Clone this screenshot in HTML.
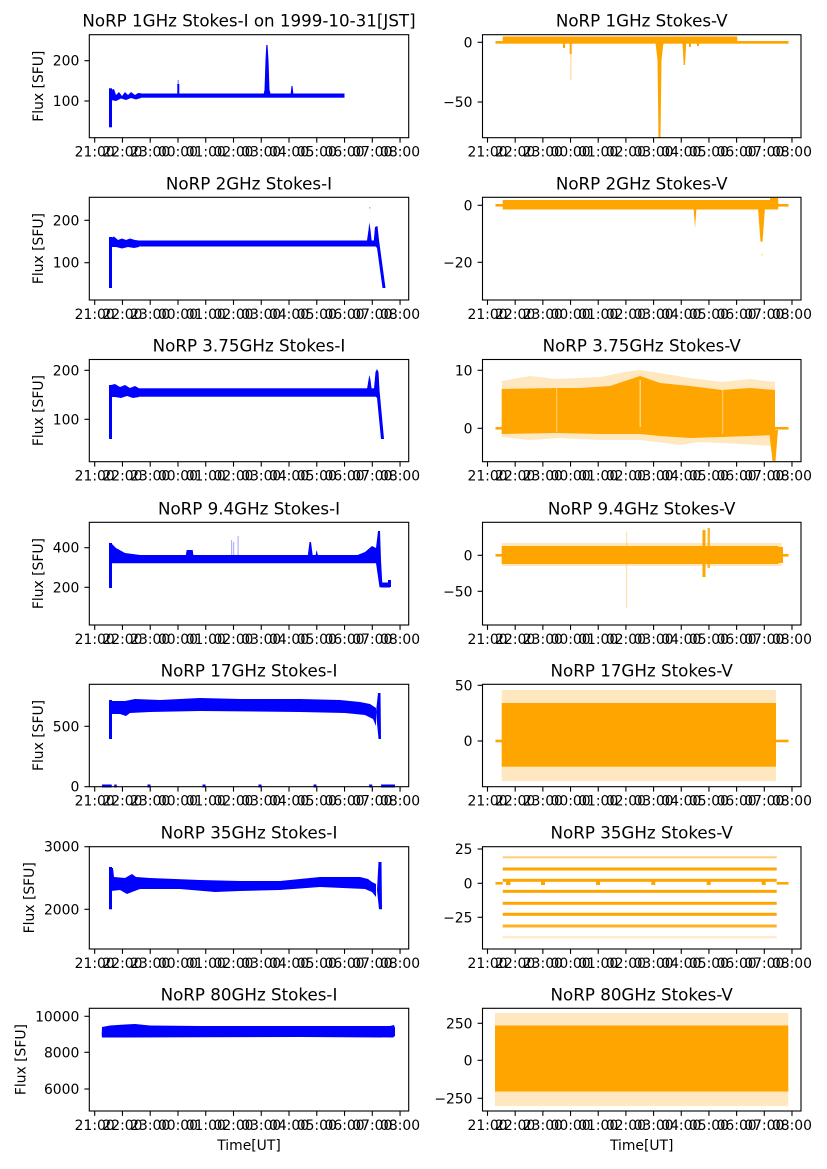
<!DOCTYPE html>
<html><head><meta charset="utf-8"><style>
html,body{margin:0;padding:0;background:#fff;}
svg{display:block;font-family:"DejaVu Sans","Liberation Sans",sans-serif;}
.t{font-size:13.9px;fill:#000;}
.ti{font-size:16.7px;fill:#000;}
.fr{fill:none;stroke:#000;stroke-width:1.1;}
.tk{stroke:#000;stroke-width:1.1;}
.b{fill:#0000ff;}
.o{fill:#ffa500;}
.os{fill:#ffa500;opacity:0.25;}
</style></head><body>
<svg width="827" height="1169" viewBox="0 0 827 1169" xmlns="http://www.w3.org/2000/svg">

<!-- ================= ROW 1 ================= -->
<text class="ti" x="249" y="26.5" text-anchor="middle">NoRP 1GHz Stokes-I on 1999-10-31[JST]</text>
<text class="ti" x="641.7" y="26.5" text-anchor="middle">NoRP 1GHz Stokes-V</text>
<rect class="b" x="109" y="88.3" width="3" height="39"/>
<polygon class="b" points="111,90 114,89 116,95 119,92 122,96 125,92 128,95 131,92 135,95 138,93 141,93.3 141,98 136,99.5 131,98 126,100 121,98.5 116,101 111,100"/>
<rect class="b" x="141" y="93.5" width="203.5" height="4.2"/>
<rect class="b" x="177.3" y="84" width="2" height="10"/>
<rect class="b" x="177.5" y="80" width="1.5" height="5" opacity="0.4"/>
<polygon class="b" points="263,97 264.5,90 265.5,60 266.3,45 267.5,45 268.5,60 269.5,90 271.5,97"/>
<polygon class="b" points="290.5,95 291.5,86 292.5,86 293.5,95"/>
<rect class="o" x="495.5" y="41" width="293" height="2.7"/>
<rect class="o" x="502.7" y="36.5" width="234.6" height="6.8"/>
<rect class="o" x="563" y="42" width="2" height="6"/>
<rect class="o" x="569.7" y="42" width="2" height="12"/>
<rect class="o" x="569.9" y="52" width="1.6" height="28" opacity="0.3"/>
<polygon class="o" points="655.5,43 657.5,60 658.5,137.7 660.5,137.7 661.5,60 663.5,43"/>
<polygon class="o" points="682.5,43 683.7,65 685,65 686.2,43"/>
<rect class="o" x="689" y="42" width="2" height="5"/>
<rect class="o" x="697" y="42" width="2" height="4"/>
<rect class="fr" x="89.3" y="34.7" width="319.4" height="103"/>
<rect class="fr" x="482.5" y="34.7" width="318.5" height="103"/>

<!-- ================= ROW 2 ================= -->
<text class="ti" x="249" y="189.3" text-anchor="middle">NoRP 2GHz Stokes-I</text>
<text class="ti" x="641.7" y="189.3" text-anchor="middle">NoRP 2GHz Stokes-V</text>
<rect class="b" x="109" y="237" width="3" height="51"/>
<polygon class="b" points="111,238 114,236.5 118,240 122,238.5 126,240 130,238.5 135,240 139,240.5 139,247 134,248 128,247 122,248.5 116,247 111,247"/>
<rect class="b" x="139" y="240.5" width="240" height="6"/>
<polygon class="b" points="366.5,244 368.5,230 369.3,222.5 370.5,230 372,244"/>
<polygon class="b" points="373.5,244 375,227 377.5,226 379,240 385.5,288 382.5,288 377,248"/>
<rect class="b" x="369" y="207" width="1.5" height="1.5" opacity="0.3"/>
<rect class="o" x="495.5" y="204" width="293" height="2.6"/>
<rect class="o" x="502.7" y="200" width="275.6" height="9.5"/>
<rect class="o" x="770" y="198" width="8" height="11"/>
<polygon class="o" points="693.5,208 695,228 696.5,208"/>
<polygon class="o" points="758,208 760.5,241.7 762.5,241.7 765,208"/>
<rect class="o" x="761" y="254" width="1.5" height="1.5" opacity="0.4"/>
<rect class="fr" x="89.3" y="197.3" width="319.4" height="102.7"/>
<rect class="fr" x="482.5" y="197.3" width="318.5" height="102.7"/>

<!-- ================= ROW 3 ================= -->
<text class="ti" x="249" y="351.5" text-anchor="middle">NoRP 3.75GHz Stokes-I</text>
<text class="ti" x="641.7" y="351.5" text-anchor="middle">NoRP 3.75GHz Stokes-V</text>
<rect class="b" x="109" y="385" width="3" height="54"/>
<polygon class="b" points="111,385 115,384 120,387 125,385 130,388 135,386 139,388.3 139,397 133,398 127,396 121,398 115,397 111,397"/>
<rect class="b" x="139" y="388.3" width="238" height="8.4"/>
<polygon class="b" points="366.5,392 368.5,380 369.3,375 370.5,380 372,392"/>
<polygon class="b" points="373.5,394 375.5,372 377,369 378.5,372 379.5,390 384,439 381,439 377,398"/>
<rect class="o" x="495.5" y="427" width="293" height="2.6"/>
<polygon class="os" points="501.7,381 530,376 556,379 600,377 625,372 640,370 660,373 690,378 722,382 750,379 775,382 775,446 740,444 700,442 680,445 640,440 600,440 560,438 530,440 501.7,437"/>
<polygon class="o" points="501.7,389 556,388 580,388 610,386 625,381 640,376 660,383 690,386 722,390 750,388 775,390 775,435 722,437 690,438 660,436 640,434 600,434 556,433 501.7,434"/>
<rect x="556.2" y="388" width="1" height="44" fill="#fff" opacity="0.5"/>
<rect x="639.5" y="380" width="1.5" height="50" fill="#fff" opacity="0.5"/>
<rect x="722.2" y="390" width="1" height="44" fill="#fff" opacity="0.5"/>
<rect class="o" x="636" y="427" width="8" height="2.6"/>
<polygon class="o" points="769,430 772.5,461 775.5,461 778,430"/>
<rect class="fr" x="89.3" y="359.5" width="319.4" height="102.2"/>
<rect class="fr" x="482.5" y="359.5" width="318.5" height="102.2"/>

<!-- ================= ROW 4 ================= -->
<text class="ti" x="249" y="514.3" text-anchor="middle">NoRP 9.4GHz Stokes-I</text>
<text class="ti" x="641.7" y="514.3" text-anchor="middle">NoRP 9.4GHz Stokes-V</text>
<rect class="b" x="109" y="543" width="3" height="45"/>
<polygon class="b" points="111,543 116,548 125,553 140,555 376,555 376,563.3 111,563.3"/>
<polygon class="b" points="185,560 186.7,550 192.7,550 194,560"/>
<rect class="b" x="231" y="540" width="1.2" height="16" opacity="0.3"/>
<rect class="b" x="233" y="542" width="1.2" height="14" opacity="0.3"/>
<rect class="b" x="237.5" y="536" width="1.2" height="20" opacity="0.3"/>
<polygon class="b" points="307.5,558 309.5,542 311,542 313,558"/>
<polygon class="b" points="315,558 316.7,550 318.5,558"/>
<polygon class="b" points="355,556 365,552 372,546 376,548 378,531 380,531 381,560 382.5,587.3 379.5,587.3 376,563"/>
<rect class="b" x="381" y="582.5" width="9" height="5"/>
<rect class="b" x="388" y="580" width="3" height="7"/>
<rect class="o" x="495.5" y="554" width="293" height="2.6"/>
<rect class="os" x="501.7" y="543" width="280" height="23"/>
<rect class="o" x="501.7" y="546" width="276.6" height="18"/>
<rect class="o" x="776" y="547" width="7" height="16"/>
<rect class="o" x="702.5" y="530" width="3" height="47"/>
<rect class="o" x="707.5" y="528" width="2.5" height="40" opacity="0.8"/>
<rect class="o" x="626" y="532" width="1.3" height="76" opacity="0.3"/>
<rect class="fr" x="89.3" y="522.3" width="319.4" height="102.7"/>
<rect class="fr" x="482.5" y="522.3" width="318.5" height="102.7"/>

<!-- ================= ROW 5 ================= -->
<text class="ti" x="249" y="676.3" text-anchor="middle">NoRP 17GHz Stokes-I</text>
<text class="ti" x="641.7" y="676.3" text-anchor="middle">NoRP 17GHz Stokes-V</text>
<rect class="b" x="109" y="700" width="3" height="39"/>
<polygon class="b" points="111,701 125,701 135,699 160,700 200,698 240,699 300,699 340,700 360,702 370,704 376,708 376,726 373,719 365,715 345,713 300,712 200,711 150,712 130,713 126,716 120,714 111,714"/>
<polygon class="b" points="376,712 378,693 380.5,693 381,739 378.5,739"/>
<rect class="b" x="102" y="784.5" width="9.7" height="3"/>
<rect class="b" x="114.3" y="784.5" width="2.4" height="3"/>
<rect class="b" x="147.5" y="784.5" width="3" height="3"/>
<rect class="b" x="202.5" y="784.5" width="3" height="3"/>
<rect class="b" x="258.5" y="784.5" width="3" height="3"/>
<rect class="b" x="313.5" y="784.5" width="3" height="3"/>
<rect class="b" x="369.2" y="784.5" width="3" height="3"/>
<rect class="b" x="381" y="784.5" width="14" height="3"/>
<rect class="o" x="495.5" y="739.7" width="293" height="2.6"/>
<rect class="os" x="501.7" y="690" width="274.3" height="91"/>
<rect class="o" x="501.7" y="703" width="274.3" height="63.7"/>
<rect class="fr" x="89.3" y="684.3" width="319.4" height="102.4"/>
<rect class="fr" x="482.5" y="684.3" width="318.5" height="102.4"/>

<!-- ================= ROW 6 ================= -->
<text class="ti" x="249" y="838.7" text-anchor="middle">NoRP 35GHz Stokes-I</text>
<text class="ti" x="641.7" y="838.7" text-anchor="middle">NoRP 35GHz Stokes-V</text>
<rect class="b" x="109" y="867" width="3" height="42.3"/>
<polygon class="b" points="111,868 113,868 114,877 125,878 132,874 136,877 150,878 200,880 240,881 280,881 300,879 320,877 360,877 368,879 372,882 376,884 376,897 372,892 365,889 320,887 280,890 240,891 215,892 180,889 140,889 132,892 127,894 120,890 111,891"/>
<polygon class="b" points="377,890 378.5,862 381.5,862 382,909.3 379,909.3"/>
<rect class="o" x="502.7" y="856.3" width="274" height="2" opacity="0.55"/>
<rect class="o" x="502.7" y="867.5" width="274" height="3"/>
<rect class="o" x="502.7" y="878.8" width="274" height="3"/>
<rect class="o" x="502.7" y="889.8" width="274" height="3"/>
<rect class="o" x="502.7" y="901.8" width="274" height="3"/>
<rect class="o" x="502.7" y="912.8" width="274" height="3"/>
<rect class="o" x="502.7" y="924.5" width="274" height="3" opacity="0.85"/>
<rect class="o" x="502.7" y="936.3" width="274" height="2" opacity="0.25"/>
<rect class="o" x="495.5" y="882" width="7.2" height="2.6"/>
<rect class="o" x="776.7" y="882" width="11.8" height="2.6"/>
<rect class="o" x="506" y="880" width="4.5" height="5"/>
<rect class="o" x="541" y="880" width="4" height="5"/>
<rect class="o" x="596" y="880" width="4" height="5"/>
<rect class="o" x="651.3" y="880" width="4" height="5"/>
<rect class="o" x="706.7" y="880" width="4" height="5"/>
<rect class="o" x="761.7" y="880" width="4" height="5"/>
<rect class="fr" x="89.3" y="846.7" width="319.4" height="102.3"/>
<rect class="fr" x="482.5" y="846.7" width="318.5" height="102.3"/>

<!-- ================= ROW 7 ================= -->
<text class="ti" x="249" y="1000.3" text-anchor="middle">NoRP 80GHz Stokes-I</text>
<text class="ti" x="641.7" y="1000.3" text-anchor="middle">NoRP 80GHz Stokes-V</text>
<polygon class="b" points="102,1027 110,1025.5 125,1024.5 135,1024 150,1025.5 200,1026 300,1026 390,1026 394,1025 395,1028 395,1036 393,1037.5 300,1037 200,1037.3 102,1037.5 101.7,1035"/>
<rect class="os" x="495" y="1013" width="293.3" height="93"/>
<rect class="o" x="495" y="1025.5" width="293.3" height="66"/>
<rect class="fr" x="89.3" y="1008.3" width="319.4" height="102.7"/>
<rect class="fr" x="482.5" y="1008.3" width="318.5" height="102.7"/>

<text class="t" x="249" y="1150" text-anchor="middle">Time[UT]</text>
<text class="t" x="641.7" y="1150" text-anchor="middle">Time[UT]</text>

<!-- ================= Y LABELS ================= -->
<text class="t" transform="translate(43,86.2) rotate(-90)" text-anchor="middle">Flux [SFU]</text>
<text class="t" transform="translate(43,248.6) rotate(-90)" text-anchor="middle">Flux [SFU]</text>
<text class="t" transform="translate(43,410.6) rotate(-90)" text-anchor="middle">Flux [SFU]</text>
<text class="t" transform="translate(43,573.6) rotate(-90)" text-anchor="middle">Flux [SFU]</text>
<text class="t" transform="translate(43,735.5) rotate(-90)" text-anchor="middle">Flux [SFU]</text>
<text class="t" transform="translate(34,897.8) rotate(-90)" text-anchor="middle">Flux [SFU]</text>
<text class="t" transform="translate(25.5,1059.6) rotate(-90)" text-anchor="middle">Flux [SFU]</text>

<!-- ================= Y TICKS ================= -->
<g class="tk">
<line x1="84.4" y1="60.7" x2="89.3" y2="60.7"/><line x1="84.4" y1="101" x2="89.3" y2="101"/>
<line x1="477.6" y1="42.3" x2="482.5" y2="42.3"/><line x1="477.6" y1="102" x2="482.5" y2="102"/>
<line x1="84.4" y1="220.3" x2="89.3" y2="220.3"/><line x1="84.4" y1="262.7" x2="89.3" y2="262.7"/>
<line x1="477.6" y1="205.3" x2="482.5" y2="205.3"/><line x1="477.6" y1="262.3" x2="482.5" y2="262.3"/>
<line x1="84.4" y1="370.3" x2="89.3" y2="370.3"/><line x1="84.4" y1="419.3" x2="89.3" y2="419.3"/>
<line x1="477.6" y1="370.3" x2="482.5" y2="370.3"/><line x1="477.6" y1="428.3" x2="482.5" y2="428.3"/>
<line x1="84.4" y1="547.7" x2="89.3" y2="547.7"/><line x1="84.4" y1="587.3" x2="89.3" y2="587.3"/>
<line x1="477.6" y1="555.3" x2="482.5" y2="555.3"/><line x1="477.6" y1="591.3" x2="482.5" y2="591.3"/>
<line x1="84.4" y1="726.3" x2="89.3" y2="726.3"/><line x1="84.4" y1="786.7" x2="89.3" y2="786.7"/>
<line x1="477.6" y1="685.3" x2="482.5" y2="685.3"/><line x1="477.6" y1="741" x2="482.5" y2="741"/>
<line x1="84.4" y1="846.7" x2="89.3" y2="846.7"/><line x1="84.4" y1="909.3" x2="89.3" y2="909.3"/>
<line x1="477.6" y1="849" x2="482.5" y2="849"/><line x1="477.6" y1="883.3" x2="482.5" y2="883.3"/><line x1="477.6" y1="917.3" x2="482.5" y2="917.3"/>
<line x1="84.4" y1="1016.3" x2="89.3" y2="1016.3"/><line x1="84.4" y1="1052.3" x2="89.3" y2="1052.3"/><line x1="84.4" y1="1089" x2="89.3" y2="1089"/>
<line x1="477.6" y1="1023.3" x2="482.5" y2="1023.3"/><line x1="477.6" y1="1060.3" x2="482.5" y2="1060.3"/><line x1="477.6" y1="1098.3" x2="482.5" y2="1098.3"/>
</g>
<g class="t" text-anchor="end">
<text x="79.3" y="65.7">200</text><text x="79.3" y="106">100</text>
<text x="472.5" y="47.3">0</text><text x="472.5" y="107">−50</text>
<text x="79.3" y="225.3">200</text><text x="79.3" y="267.7">100</text>
<text x="472.5" y="210.3">0</text><text x="472.5" y="267.3">−20</text>
<text x="79.3" y="375.3">200</text><text x="79.3" y="424.3">100</text>
<text x="472.5" y="375.3">10</text><text x="472.5" y="433.3">0</text>
<text x="79.3" y="552.7">400</text><text x="79.3" y="592.3">200</text>
<text x="472.5" y="560.3">0</text><text x="472.5" y="596.3">−50</text>
<text x="79.3" y="731.3">500</text><text x="79.3" y="791.7">0</text>
<text x="472.5" y="690.3">50</text><text x="472.5" y="746">0</text>
<text x="79.3" y="851.7">3000</text><text x="79.3" y="914.3">2000</text>
<text x="472.5" y="854">25</text><text x="472.5" y="888.3">0</text><text x="472.5" y="922.3">−25</text>
<text x="79.3" y="1021.3">10000</text><text x="79.3" y="1057.3">8000</text><text x="79.3" y="1094">6000</text>
<text x="472.5" y="1028.3">250</text><text x="472.5" y="1065.3">0</text><text x="472.5" y="1103.3">−250</text>
</g>

<!-- ================= X TICKS ================= -->
<g class="tk">
<path d="M94.7 137.7v4.9M122.46 137.7v4.9M150.22 137.7v4.9M177.98 137.7v4.9M205.74 137.7v4.9M233.5 137.7v4.9M261.26 137.7v4.9M289.02 137.7v4.9M316.78 137.7v4.9M344.54 137.7v4.9M372.3 137.7v4.9M400.06 137.7v4.9"/>
<path d="M94.7 300v4.9M122.46 300v4.9M150.22 300v4.9M177.98 300v4.9M205.74 300v4.9M233.5 300v4.9M261.26 300v4.9M289.02 300v4.9M316.78 300v4.9M344.54 300v4.9M372.3 300v4.9M400.06 300v4.9"/>
<path d="M94.7 461.7v4.9M122.46 461.7v4.9M150.22 461.7v4.9M177.98 461.7v4.9M205.74 461.7v4.9M233.5 461.7v4.9M261.26 461.7v4.9M289.02 461.7v4.9M316.78 461.7v4.9M344.54 461.7v4.9M372.3 461.7v4.9M400.06 461.7v4.9"/>
<path d="M94.7 625v4.9M122.46 625v4.9M150.22 625v4.9M177.98 625v4.9M205.74 625v4.9M233.5 625v4.9M261.26 625v4.9M289.02 625v4.9M316.78 625v4.9M344.54 625v4.9M372.3 625v4.9M400.06 625v4.9"/>
<path d="M94.7 786.7v4.9M122.46 786.7v4.9M150.22 786.7v4.9M177.98 786.7v4.9M205.74 786.7v4.9M233.5 786.7v4.9M261.26 786.7v4.9M289.02 786.7v4.9M316.78 786.7v4.9M344.54 786.7v4.9M372.3 786.7v4.9M400.06 786.7v4.9"/>
<path d="M94.7 949v4.9M122.46 949v4.9M150.22 949v4.9M177.98 949v4.9M205.74 949v4.9M233.5 949v4.9M261.26 949v4.9M289.02 949v4.9M316.78 949v4.9M344.54 949v4.9M372.3 949v4.9M400.06 949v4.9"/>
<path d="M94.7 1111v4.9M122.46 1111v4.9M150.22 1111v4.9M177.98 1111v4.9M205.74 1111v4.9M233.5 1111v4.9M261.26 1111v4.9M289.02 1111v4.9M316.78 1111v4.9M344.54 1111v4.9M372.3 1111v4.9M400.06 1111v4.9"/>
<path d="M487.5 137.7v4.9M515.18 137.7v4.9M542.86 137.7v4.9M570.54 137.7v4.9M598.22 137.7v4.9M625.9 137.7v4.9M653.58 137.7v4.9M681.26 137.7v4.9M708.94 137.7v4.9M736.62 137.7v4.9M764.3 137.7v4.9M791.98 137.7v4.9"/>
<path d="M487.5 300v4.9M515.18 300v4.9M542.86 300v4.9M570.54 300v4.9M598.22 300v4.9M625.9 300v4.9M653.58 300v4.9M681.26 300v4.9M708.94 300v4.9M736.62 300v4.9M764.3 300v4.9M791.98 300v4.9"/>
<path d="M487.5 461.7v4.9M515.18 461.7v4.9M542.86 461.7v4.9M570.54 461.7v4.9M598.22 461.7v4.9M625.9 461.7v4.9M653.58 461.7v4.9M681.26 461.7v4.9M708.94 461.7v4.9M736.62 461.7v4.9M764.3 461.7v4.9M791.98 461.7v4.9"/>
<path d="M487.5 625v4.9M515.18 625v4.9M542.86 625v4.9M570.54 625v4.9M598.22 625v4.9M625.9 625v4.9M653.58 625v4.9M681.26 625v4.9M708.94 625v4.9M736.62 625v4.9M764.3 625v4.9M791.98 625v4.9"/>
<path d="M487.5 786.7v4.9M515.18 786.7v4.9M542.86 786.7v4.9M570.54 786.7v4.9M598.22 786.7v4.9M625.9 786.7v4.9M653.58 786.7v4.9M681.26 786.7v4.9M708.94 786.7v4.9M736.62 786.7v4.9M764.3 786.7v4.9M791.98 786.7v4.9"/>
<path d="M487.5 949v4.9M515.18 949v4.9M542.86 949v4.9M570.54 949v4.9M598.22 949v4.9M625.9 949v4.9M653.58 949v4.9M681.26 949v4.9M708.94 949v4.9M736.62 949v4.9M764.3 949v4.9M791.98 949v4.9"/>
<path d="M487.5 1111v4.9M515.18 1111v4.9M542.86 1111v4.9M570.54 1111v4.9M598.22 1111v4.9M625.9 1111v4.9M653.58 1111v4.9M681.26 1111v4.9M708.94 1111v4.9M736.62 1111v4.9M764.3 1111v4.9M791.98 1111v4.9"/>
</g>

<g class="t" text-anchor="middle">
<text y="156.7"><tspan x="94.7">21:00</tspan><tspan x="122.46">22:00</tspan><tspan x="150.22">23:00</tspan><tspan x="177.98">00:00</tspan><tspan x="205.74">01:00</tspan><tspan x="233.5">02:00</tspan><tspan x="261.26">03:00</tspan><tspan x="289.02">04:00</tspan><tspan x="316.78">05:00</tspan><tspan x="344.54">06:00</tspan><tspan x="372.3">07:00</tspan><tspan x="400.06">08:00</tspan></text>
<text y="319"><tspan x="94.7">21:00</tspan><tspan x="122.46">22:00</tspan><tspan x="150.22">23:00</tspan><tspan x="177.98">00:00</tspan><tspan x="205.74">01:00</tspan><tspan x="233.5">02:00</tspan><tspan x="261.26">03:00</tspan><tspan x="289.02">04:00</tspan><tspan x="316.78">05:00</tspan><tspan x="344.54">06:00</tspan><tspan x="372.3">07:00</tspan><tspan x="400.06">08:00</tspan></text>
<text y="480.7"><tspan x="94.7">21:00</tspan><tspan x="122.46">22:00</tspan><tspan x="150.22">23:00</tspan><tspan x="177.98">00:00</tspan><tspan x="205.74">01:00</tspan><tspan x="233.5">02:00</tspan><tspan x="261.26">03:00</tspan><tspan x="289.02">04:00</tspan><tspan x="316.78">05:00</tspan><tspan x="344.54">06:00</tspan><tspan x="372.3">07:00</tspan><tspan x="400.06">08:00</tspan></text>
<text y="644"><tspan x="94.7">21:00</tspan><tspan x="122.46">22:00</tspan><tspan x="150.22">23:00</tspan><tspan x="177.98">00:00</tspan><tspan x="205.74">01:00</tspan><tspan x="233.5">02:00</tspan><tspan x="261.26">03:00</tspan><tspan x="289.02">04:00</tspan><tspan x="316.78">05:00</tspan><tspan x="344.54">06:00</tspan><tspan x="372.3">07:00</tspan><tspan x="400.06">08:00</tspan></text>
<text y="805.7"><tspan x="94.7">21:00</tspan><tspan x="122.46">22:00</tspan><tspan x="150.22">23:00</tspan><tspan x="177.98">00:00</tspan><tspan x="205.74">01:00</tspan><tspan x="233.5">02:00</tspan><tspan x="261.26">03:00</tspan><tspan x="289.02">04:00</tspan><tspan x="316.78">05:00</tspan><tspan x="344.54">06:00</tspan><tspan x="372.3">07:00</tspan><tspan x="400.06">08:00</tspan></text>
<text y="968"><tspan x="94.7">21:00</tspan><tspan x="122.46">22:00</tspan><tspan x="150.22">23:00</tspan><tspan x="177.98">00:00</tspan><tspan x="205.74">01:00</tspan><tspan x="233.5">02:00</tspan><tspan x="261.26">03:00</tspan><tspan x="289.02">04:00</tspan><tspan x="316.78">05:00</tspan><tspan x="344.54">06:00</tspan><tspan x="372.3">07:00</tspan><tspan x="400.06">08:00</tspan></text>
<text y="1130"><tspan x="94.7">21:00</tspan><tspan x="122.46">22:00</tspan><tspan x="150.22">23:00</tspan><tspan x="177.98">00:00</tspan><tspan x="205.74">01:00</tspan><tspan x="233.5">02:00</tspan><tspan x="261.26">03:00</tspan><tspan x="289.02">04:00</tspan><tspan x="316.78">05:00</tspan><tspan x="344.54">06:00</tspan><tspan x="372.3">07:00</tspan><tspan x="400.06">08:00</tspan></text>
</g>
<g class="t" text-anchor="middle">
<text y="156.7"><tspan x="487.5">21:00</tspan><tspan x="515.18">22:00</tspan><tspan x="542.86">23:00</tspan><tspan x="570.54">00:00</tspan><tspan x="598.22">01:00</tspan><tspan x="625.9">02:00</tspan><tspan x="653.58">03:00</tspan><tspan x="681.26">04:00</tspan><tspan x="708.94">05:00</tspan><tspan x="736.62">06:00</tspan><tspan x="764.3">07:00</tspan><tspan x="791.98">08:00</tspan></text>
<text y="319"><tspan x="487.5">21:00</tspan><tspan x="515.18">22:00</tspan><tspan x="542.86">23:00</tspan><tspan x="570.54">00:00</tspan><tspan x="598.22">01:00</tspan><tspan x="625.9">02:00</tspan><tspan x="653.58">03:00</tspan><tspan x="681.26">04:00</tspan><tspan x="708.94">05:00</tspan><tspan x="736.62">06:00</tspan><tspan x="764.3">07:00</tspan><tspan x="791.98">08:00</tspan></text>
<text y="480.7"><tspan x="487.5">21:00</tspan><tspan x="515.18">22:00</tspan><tspan x="542.86">23:00</tspan><tspan x="570.54">00:00</tspan><tspan x="598.22">01:00</tspan><tspan x="625.9">02:00</tspan><tspan x="653.58">03:00</tspan><tspan x="681.26">04:00</tspan><tspan x="708.94">05:00</tspan><tspan x="736.62">06:00</tspan><tspan x="764.3">07:00</tspan><tspan x="791.98">08:00</tspan></text>
<text y="644"><tspan x="487.5">21:00</tspan><tspan x="515.18">22:00</tspan><tspan x="542.86">23:00</tspan><tspan x="570.54">00:00</tspan><tspan x="598.22">01:00</tspan><tspan x="625.9">02:00</tspan><tspan x="653.58">03:00</tspan><tspan x="681.26">04:00</tspan><tspan x="708.94">05:00</tspan><tspan x="736.62">06:00</tspan><tspan x="764.3">07:00</tspan><tspan x="791.98">08:00</tspan></text>
<text y="805.7"><tspan x="487.5">21:00</tspan><tspan x="515.18">22:00</tspan><tspan x="542.86">23:00</tspan><tspan x="570.54">00:00</tspan><tspan x="598.22">01:00</tspan><tspan x="625.9">02:00</tspan><tspan x="653.58">03:00</tspan><tspan x="681.26">04:00</tspan><tspan x="708.94">05:00</tspan><tspan x="736.62">06:00</tspan><tspan x="764.3">07:00</tspan><tspan x="791.98">08:00</tspan></text>
<text y="968"><tspan x="487.5">21:00</tspan><tspan x="515.18">22:00</tspan><tspan x="542.86">23:00</tspan><tspan x="570.54">00:00</tspan><tspan x="598.22">01:00</tspan><tspan x="625.9">02:00</tspan><tspan x="653.58">03:00</tspan><tspan x="681.26">04:00</tspan><tspan x="708.94">05:00</tspan><tspan x="736.62">06:00</tspan><tspan x="764.3">07:00</tspan><tspan x="791.98">08:00</tspan></text>
<text y="1130"><tspan x="487.5">21:00</tspan><tspan x="515.18">22:00</tspan><tspan x="542.86">23:00</tspan><tspan x="570.54">00:00</tspan><tspan x="598.22">01:00</tspan><tspan x="625.9">02:00</tspan><tspan x="653.58">03:00</tspan><tspan x="681.26">04:00</tspan><tspan x="708.94">05:00</tspan><tspan x="736.62">06:00</tspan><tspan x="764.3">07:00</tspan><tspan x="791.98">08:00</tspan></text>
</g>
</svg>
</body></html>
